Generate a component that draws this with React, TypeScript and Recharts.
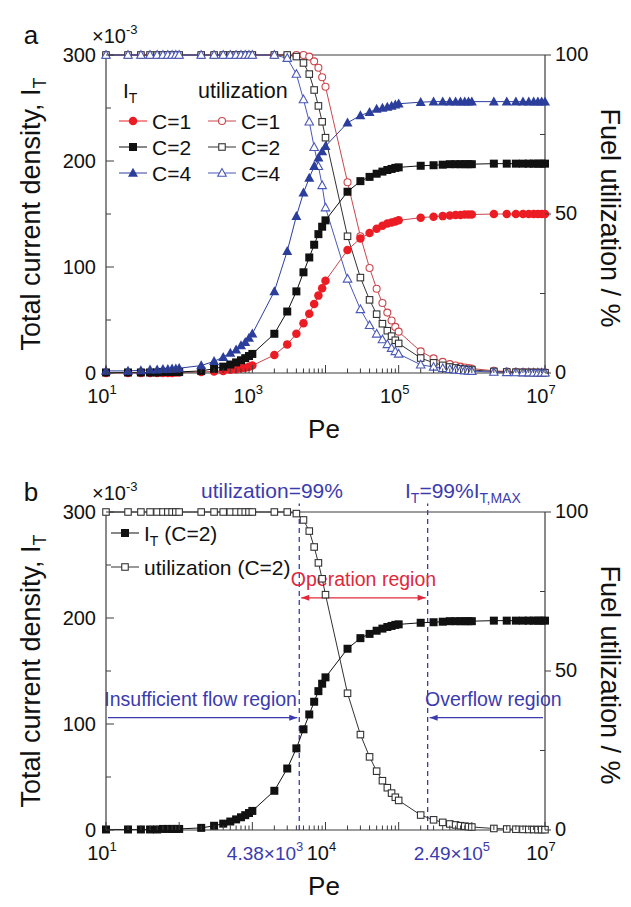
import React from "react";
import { ComposedChart, Line, XAxis, YAxis, ReferenceLine } from "recharts";

const FONT = '"Liberation Sans", Arial, Helvetica, sans-serif';
const AXIS = "#3c3c3c";
const RED = "#ec1c24";
const RED_OPEN = "#c9474d";
const BLACK = "#111111";
const BLUE = "#2c3e9c";
const BLUE_OPEN = "#4a58b6";
const NOTE_BLUE = "#3b3bae";
const NOTE_RED = "#e0283a";

// Peclet numbers (n x 10^k)
const pe = [
  10, 20, 30, 40, 50, 60, 70, 80, 90,
  100, 200, 300, 400, 500, 600, 700, 800, 900,
  1e3, 2e3, 3e3, 4e3, 5e3, 6e3, 7e3, 8e3, 9e3,
  1e4, 2e4, 3e4, 4e4, 5e4, 6e4, 7e4, 8e4, 9e4,
  1e5, 2e5, 3e5, 4e5, 5e5, 6e5, 7e5, 8e5, 9e5,
  1e6, 2e6, 3e6, 4e6, 5e6, 6e6, 7e6, 8e6, 9e6,
  1e7,
];

// total current density I_T (x10^-3)
const itC1 = [
  0, 0, 0, 0, 0, 0, 0, 0, 0.5,
  0.5, 1, 1.5, 2, 3, 3.5, 4.5, 5, 6,
  7, 17, 27, 37, 47, 56, 65, 73, 80,
  87, 116, 127, 132, 136, 139, 141, 142, 143,
  144, 146.5, 147.5, 148, 148.5, 149, 149, 149.5, 149.5,
  149.5, 150, 150, 150, 150, 150, 150, 150, 150,
  150,
];
const itC2 = [
  0.5, 0.5, 0.5, 0.5, 0.5, 1, 1, 1, 1,
  1, 2, 4, 6, 8, 10, 12, 14, 16,
  18, 37, 58, 77, 95, 109, 121, 131, 138,
  144, 171, 181, 185, 188, 190, 191.5, 192.5, 193.5,
  194, 195.5, 196, 196.5, 197, 197, 197, 197, 197,
  197, 197.5, 197.5, 197.5, 197.5, 197.5, 197.5, 197.5, 197.5,
  197.5,
];
const itC4 = [
  2, 2, 2.5, 3, 3, 3.5, 3.5, 4, 4,
  4.5, 7, 11, 15, 19, 22, 26, 29, 33,
  37, 77, 115, 148, 170, 184, 195, 203, 209,
  214, 236, 243, 246, 249, 250, 251, 252, 253,
  254, 255.5, 256, 256, 256, 256, 256, 256, 256,
  256, 256, 256, 256, 256, 256, 256, 256, 256,
  256,
];

// fuel utilization (%)
const uC1 = [
  100, 100, 100, 100, 100, 100, 100, 100, 100,
  100, 100, 100, 100, 100, 100, 100, 100, 100,
  100, 100, 100, 100, 100, 99.5, 98, 96, 93,
  90, 60, 43, 33, 26.5, 22, 19, 16.5, 14.5,
  13, 6.8, 4.6, 3.5, 2.8, 2.35, 2, 1.75, 1.55,
  1.4, 0.7, 0.47, 0.35, 0.28, 0.23, 0.2, 0.18, 0.16,
  0.14,
];
const uC2 = [
  100, 100, 100, 100, 100, 100, 100, 100, 100,
  100, 100, 100, 100, 100, 100, 100, 100, 100,
  100, 100, 100, 99.5, 97.5, 94, 89, 84, 79,
  74, 43, 30, 23, 18.5, 15.5, 13.3, 11.6, 10.3,
  9.3, 4.7, 3.2, 2.4, 1.9, 1.6, 1.35, 1.2, 1.05,
  0.95, 0.48, 0.32, 0.24, 0.19, 0.16, 0.14, 0.12, 0.11,
  0.1,
];
const uC4 = [
  100, 100, 100, 100, 100, 100, 100, 100, 100,
  100, 100, 100, 100, 100, 100, 100, 100, 100,
  100, 100, 99, 94, 86, 79, 71, 65, 59,
  52, 29.6, 20, 15, 12.3, 10.5, 9, 7.8, 6.8,
  6, 2.6, 1.9, 1.45, 1.15, 0.97, 0.83, 0.73, 0.65,
  0.58, 0.29, 0.19, 0.15, 0.12, 0.1, 0.08, 0.07, 0.06,
  0.06,
];

// ticks
const xMajor = [10, 100, 1e3, 1e4, 1e5, 1e6, 1e7];
const xLabelsA = [10, 1e3, 1e5, 1e7];
const xLabelsB = [10, 1e4, 1e7];
const peMarks = [4380, 249000];
const peMarkText = ["4.38×10", "2.49×10"];
const peMarkExp = ["3", "5"];
const yLeftTicks = [0, 50, 100, 150, 200, 250, 300];
const yLeftLabels = [0, 100, 200, 300];
const yRightTicks = [0, 25, 50, 75, 100];
const yRightLabels = [0, 50, 100];

const rows = pe.map((p, i) => ({
  pe: p, it1: itC1[i], it2: itC2[i], it4: itC4[i], u1: uC1[i], u2: uC2[i], u4: uC4[i],
}));

type Shape = "circle" | "square" | "triangle";

function Mark({ shape, filled, color, x, y, size }: { shape: Shape; filled: boolean; color: string; x: number; y: number; size: number }) {
  const fill = filled ? color : "#fff";
  const sw = filled ? 0 : 1.1;
  if (shape === "circle") return <circle cx={x} cy={y} r={size / 2} fill={fill} stroke={color} strokeWidth={sw} />;
  if (shape === "square")
    return <rect x={x - size / 2} y={y - size / 2} width={size} height={size} fill={fill} stroke={color} strokeWidth={sw} />;
  const h = size * 0.9;
  return (
    <polygon
      points={`${x},${y - h * 0.58} ${x - size / 2},${y + h * 0.42} ${x + size / 2},${y + h * 0.42}`}
      fill={fill} stroke={color} strokeWidth={sw}
    />
  );
}

const dot = (id: string, shape: Shape, filled: boolean, color: string, size: number) => (p: any) => (
  <Mark key={`${id}-${p.index}`} shape={shape} filled={filled} color={color} x={p.cx} y={p.cy} size={size} />
);

const makeXTick = (labelled: number[]) => (props: any) => {
  const { x, y, payload } = props;
  const v = payload.value as number;
  const mi = peMarks.indexOf(v);
  if (mi >= 0) {
    const before = v < 1e4;
    return (
      <text x={before ? x + 4 : x - 14} y={y + 30} textAnchor={before ? "end" : "start"} fill={NOTE_BLUE} fontSize={19} fontFamily={FONT}>
        {peMarkText[mi]}
        <tspan dy={-9} fontSize={13}>{peMarkExp[mi]}</tspan>
      </text>
    );
  }
  const major = xMajor.includes(v);
  return (
    <g>
      <line x1={x} x2={x} y1={y} y2={y - (major ? 8 : 4.5)} stroke={AXIS} strokeWidth={1} />
      {labelled.includes(v) && (
        <text x={x - 4} y={y + 30} textAnchor="middle" fill="#111" fontSize={20} fontFamily={FONT}>
          10<tspan dy={-9} fontSize={13}>{Math.round(Math.log10(v))}</tspan>
        </text>
      )}
    </g>
  );
};

const LeftTick = (props: any) => {
  const { x, y, payload } = props;
  const v = payload.value as number;
  const major = yLeftLabels.includes(v);
  return (
    <g>
      <line x1={x} x2={x + (major ? 8 : 5)} y1={y} y2={y} stroke={AXIS} />
      {major && (
        <text x={x - 10} y={y} dy="0.36em" textAnchor="end" fill="#111" fontSize={20} fontFamily={FONT}>{v}</text>
      )}
    </g>
  );
};

const RightTick = (props: any) => {
  const { x, y, payload } = props;
  const v = payload.value as number;
  const major = yRightLabels.includes(v);
  return (
    <g>
      <line x1={x} x2={major ? x + 6 : x - 5} y1={y} y2={y} stroke={AXIS} />
      {major && (
        <text x={x + 10} y={y} dy="0.3em" textAnchor="start" fill="#111" fontSize={20} fontFamily={FONT}>{v}</text>
      )}
    </g>
  );
};

const arrowShape = (color: string, startHead: boolean, endHead: boolean) => (p: any) => {
  const { x1, y1, x2, y2 } = p;
  const a = Math.min(x1, x2) + 2;
  const b = Math.max(x1, x2) - 2;
  return (
    <g>
      <line x1={a} y1={y1} x2={b} y2={y2} stroke={color} strokeWidth={1.2} />
      {startHead && <polygon points={`${a},${y1} ${a + 8},${y1 - 3} ${a + 8},${y1 + 3}`} fill={color} />}
      {endHead && <polygon points={`${b},${y2} ${b - 8},${y2 - 3} ${b - 8},${y2 + 3}`} fill={color} />}
    </g>
  );
};

const noteLabel = (text: string, color: string, dx: number) => (props: any) => {
  const vb = props.viewBox || {};
  const x0 = vb.x1 ?? vb.x;
  const x1 = vb.x2 ?? vb.x + (vb.width || 0);
  const y0 = vb.y1 ?? vb.y;
  return (
    <text x={(x0 + x1) / 2 + dx} y={y0 - 12} textAnchor="middle" fill={color} fontSize={19.5} fontFamily={FONT}>
      {text}
    </text>
  );
};

const axisCommon = {
  tickSize: 0,
  tickMargin: 0,
  tickLine: false,
  interval: 0 as const,
  axisLine: { stroke: AXIS, strokeWidth: 1.2 },
};

const MARGIN = { top: 55, right: 26, bottom: 37, left: 0 };

function ChartA() {
  return (
    <ComposedChart width={631} height={450} data={rows} margin={MARGIN}>
      <XAxis dataKey="pe" type="number" scale="log" domain={[10, 1e7]} ticks={pe} height={40} tick={makeXTick(xLabelsA)} {...axisCommon} />
      <YAxis yAxisId="L" domain={[0, 300]} ticks={yLeftTicks} width={106} tick={LeftTick} {...axisCommon} />
      <YAxis yAxisId="R" orientation="right" domain={[0, 100]} ticks={yRightTicks} width={60} tick={RightTick} {...axisCommon} />
      <ReferenceLine yAxisId="L" y={300} stroke={AXIS} strokeWidth={1.2} />
      <Line yAxisId="R" dataKey="u1" stroke={RED_OPEN} strokeWidth={1} dot={dot("u1", "circle", false, RED_OPEN, 7)} activeDot={false} isAnimationActive={false} />
      <Line yAxisId="R" dataKey="u2" stroke="#333" strokeWidth={1} dot={dot("u2", "square", false, "#333", 6.5)} activeDot={false} isAnimationActive={false} />
      <Line yAxisId="R" dataKey="u4" stroke={BLUE_OPEN} strokeWidth={1} dot={dot("u4", "triangle", false, BLUE_OPEN, 8.5)} activeDot={false} isAnimationActive={false} />
      <Line yAxisId="L" dataKey="it1" stroke={RED_OPEN} strokeWidth={1} dot={dot("i1", "circle", true, RED, 8.5)} activeDot={false} isAnimationActive={false} />
      <Line yAxisId="L" dataKey="it2" stroke={BLACK} strokeWidth={1} dot={dot("i2", "square", true, BLACK, 8)} activeDot={false} isAnimationActive={false} />
      <Line yAxisId="L" dataKey="it4" stroke={BLUE} strokeWidth={1} dot={dot("i4", "triangle", true, BLUE, 10)} activeDot={false} isAnimationActive={false} />
    </ComposedChart>
  );
}

function ChartB() {
  return (
    <ComposedChart width={631} height={450} data={rows} margin={MARGIN}>
      <XAxis dataKey="pe" type="number" scale="log" domain={[10, 1e7]} ticks={[...pe, ...peMarks]} height={40} tick={makeXTick(xLabelsB)} {...axisCommon} />
      <YAxis yAxisId="L" domain={[0, 300]} ticks={yLeftTicks} width={106} tick={LeftTick} {...axisCommon} />
      <YAxis yAxisId="R" orientation="right" domain={[0, 100]} ticks={yRightTicks} width={60} tick={RightTick} {...axisCommon} />
      <ReferenceLine yAxisId="L" y={300} stroke={AXIS} strokeWidth={1.2} />
      {peMarks.map((m) => (
        <ReferenceLine key={m} yAxisId="L" segment={[{ x: m, y: 0 }, { x: m, y: 308 }]} ifOverflow="visible" stroke={NOTE_BLUE} strokeWidth={1.3} strokeDasharray="5 4" />
      ))}
      <ReferenceLine yAxisId="L" segment={[{ x: peMarks[0], y: 219 }, { x: peMarks[1], y: 219 }]} ifOverflow="visible"
        shape={arrowShape(NOTE_RED, true, true)} label={noteLabel("Operation region", NOTE_RED, 0)} />
      <ReferenceLine yAxisId="L" segment={[{ x: 10, y: 106 }, { x: peMarks[0], y: 106 }]} ifOverflow="visible"
        shape={arrowShape(NOTE_BLUE, false, true)} label={noteLabel("Insufficient flow region", NOTE_BLUE, -2)} />
      <ReferenceLine yAxisId="L" segment={[{ x: peMarks[1], y: 106 }, { x: 1e7, y: 106 }]} ifOverflow="visible"
        shape={arrowShape(NOTE_BLUE, true, false)} label={noteLabel("Overflow region", NOTE_BLUE, 7)} />
      <Line yAxisId="R" dataKey="u2" stroke="#333" strokeWidth={1} dot={dot("bu2", "square", false, "#333", 6.5)} activeDot={false} isAnimationActive={false} />
      <Line yAxisId="L" dataKey="it2" stroke={BLACK} strokeWidth={1} dot={dot("bi2", "square", true, BLACK, 8)} activeDot={false} isAnimationActive={false} />
    </ComposedChart>
  );
}

function LegendRow({ y, x, color, shape, filled, size, children }: any) {
  return (
    <g>
      <line x1={x - 14} x2={x + 14} y1={y} y2={y} stroke={color} strokeWidth={1} />
      <Mark shape={shape} filled={filled} color={color} x={x} y={y} size={size} />
      <text x={x + 19} y={y + 7.5} fontSize={21} fill="#111" fontFamily={FONT}>{children}</text>
    </g>
  );
}

function Overlay() {
  const t = { fontFamily: FONT, fill: "#111" };
  return (
    <svg width={631} height={907} style={{ position: "absolute", left: 0, top: 0, pointerEvents: "none" }}>
      {[0, 457].map((dy) => (
        <g key={dy} transform={`translate(0,${dy})`}>
          <text x={31} y={44} textAnchor="middle" fontSize={26} {...t}>{dy ? "b" : "a"}</text>
          <text x={92} y={43} fontSize={20} {...t}>×10<tspan dy={-9} fontSize={13}>-3</tspan></text>
          <text transform="translate(40,214) rotate(-90)" textAnchor="middle" fontSize={27} {...t}>
            Total current density, I<tspan dy={6} fontSize={18}>T</tspan>
          </text>
          <text transform="translate(601,218) rotate(90)" textAnchor="middle" fontSize={27} {...t}>Fuel utilization / %</text>
          <text x={324} y={438} textAnchor="middle" fontSize={26} {...t}>Pe</text>
        </g>
      ))}
      {/* legend a */}
      <text x={123} y={98} fontSize={21} {...t}>I<tspan dy={5} fontSize={14}>T</tspan></text>
      <text x={198} y={98} fontSize={21.5} {...t}>utilization</text>
      <LegendRow y={121} x={133} color={RED} shape="circle" filled size={8.5}>C=1</LegendRow>
      <LegendRow y={147} x={133} color={BLACK} shape="square" filled size={8}>C=2</LegendRow>
      <LegendRow y={173} x={133} color={BLUE} shape="triangle" filled size={10}>C=4</LegendRow>
      <LegendRow y={121} x={222} color={RED_OPEN} shape="circle" filled={false} size={7}>C=1</LegendRow>
      <LegendRow y={147} x={222} color="#333" shape="square" filled={false} size={6.5}>C=2</LegendRow>
      <LegendRow y={173} x={222} color={BLUE_OPEN} shape="triangle" filled={false} size={8.5}>C=4</LegendRow>
      {/* legend b */}
      <LegendRow y={533} x={125} color={BLACK} shape="square" filled size={8}>
        I<tspan dy={5} fontSize={14}>T</tspan><tspan dy={-5}> (C=2)</tspan>
      </LegendRow>
      <LegendRow y={567} x={125} color="#333" shape="square" filled={false} size={6.5}>utilization (C=2)</LegendRow>
      {/* panel b notes above the frame */}
      <text x={272} y={498} textAnchor="middle" fontSize={21} fontFamily={FONT} fill={NOTE_BLUE}>utilization=99%</text>
      <text x={405} y={498} fontSize={21} fontFamily={FONT} fill={NOTE_BLUE}>
        I<tspan dy={5} fontSize={14}>T</tspan><tspan dy={-5}>=99%I</tspan><tspan dy={5} fontSize={14}>T,MAX</tspan>
      </text>
    </svg>
  );
}

export default function App() {
  return (
    <div style={{ position: "absolute", left: 0, top: 0, width: 631, height: 907, background: "#fff", fontFamily: FONT }}>
      <div style={{ position: "absolute", left: 0, top: 0 }}>
        <ChartA />
      </div>
      <div style={{ position: "absolute", left: 0, top: 457 }}>
        <ChartB />
      </div>
      <Overlay />
    </div>
  );
}
